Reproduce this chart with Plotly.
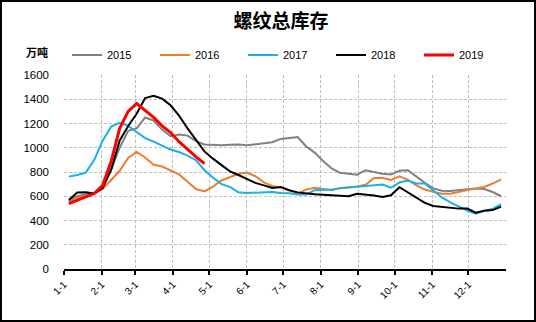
import numpy as np
import plotly.graph_objects as go

# week positions (day of year)
days = [4 + 7 * i for i in range(52)]

month_ticks = [0, 31, 59, 90, 120, 151, 181, 212, 243, 273, 304, 334]
month_labels = ["1-1", "2-1", "3-1", "4-1", "5-1", "6-1", "7-1", "8-1", "9-1", "10-1", "11-1", "12-1"]
y_ticks = [0, 200, 400, 600, 800, 1000, 1200, 1400, 1600]

s2015 = [560, 600, 615, 625, 690, 820, 1000, 1140, 1160, 1250, 1225, 1150, 1095, 1110, 1100, 1055,
         1027, 1022, 1021, 1025, 1027, 1021, 1030, 1037, 1045, 1073, 1079, 1088, 1010, 960, 890, 829,
         793, 785, 778, 815, 800, 785, 780, 810, 815, 760, 710, 665, 645, 644, 650, 658, 663, 660, 635, 600]
s2016 = [553, 585, 600, 625, 660, 735, 810, 915, 966, 920, 860, 845, 812, 780, 720, 660,
         640, 680, 730, 760, 786, 795, 765, 715, 685, 670, 650, 622, 655, 670, 660, 650,
         669, 672, 680, 695, 751, 751, 735, 765, 735, 690, 655, 636, 620, 620, 636, 655, 665, 677, 705, 740]
s2017 = [762, 775, 795, 900, 1060, 1175, 1205, 1180, 1130, 1080, 1050, 1015, 985, 965, 935, 897,
         815, 755, 700, 677, 632, 627, 630, 636, 636, 627, 625, 615, 615, 650, 650, 655,
         665, 672, 678, 683, 695, 697, 670, 713, 730, 705, 705, 650, 590, 550, 515, 482, 457, 480, 495, 535]
s2018 = [570, 630, 632, 622, 670, 820, 1060, 1180, 1280, 1410, 1429, 1405, 1350, 1265, 1160, 1065,
         970, 910, 855, 805, 775, 740, 710, 690, 668, 677, 650, 632, 622, 617, 612, 608,
         606, 600, 620, 615, 606, 594, 608, 675, 630, 585, 545, 520, 512, 500, 498, 498, 465, 480, 486, 515]
s2019 = [540, 567, 594, 622, 690, 890, 1160, 1300, 1365, 1310, 1250, 1180, 1125, 1050, 985, 925, 870]

series = [
    ("2015", s2015, "#808080", 2),
    ("2016", s2016, "#ED7D31", 2),
    ("2017", s2017, "#1AAFE6", 2),
    ("2018", s2018, "#000000", 2),
    ("2019", s2019, "#FF0000", 3),
]

fig = go.Figure()
for name, vals, color, w in series:
    fig.add_trace(go.Scatter(
        x=days[:len(vals)], y=vals, name=name, mode="lines",
        line=dict(color=color, width=w), hoverinfo="skip"))

W, H = 536, 322
ml, mr, mt, mb = 64, 30, 75, 53
pw, ph = W - ml - mr, H - mt - mb

def px_x(p):
    return (p - ml) / pw

def px_y(p):
    return (H - mb - p) / ph

fig.update_layout(
    width=W, height=H,
    margin=dict(l=ml, r=mr, t=mt, b=mb, pad=0),
    paper_bgcolor="white", plot_bgcolor="white",
    font=dict(family="Liberation Sans, Arial, sans-serif", size=11, color="#000000"),
    title=dict(text="<b>螺纹总库存</b>", x=281 / W, xanchor="center", y=1 - 21 / H, yanchor="middle",
               font=dict(family="Noto Sans CJK SC", size=19, color="#000000")),
    showlegend=True,
    legend=dict(orientation="h", x=px_x(67), xanchor="left", y=px_y(55), yanchor="middle",
                font=dict(size=11), entrywidth=43, entrywidthmode="pixels",
                bgcolor="rgba(0,0,0,0)", itemwidth=30, tracegroupgap=0),
    xaxis=dict(range=[0, 365], tickmode="array", tickvals=month_ticks, ticktext=month_labels,
               tickangle=-45, showline=True, linecolor="#000000", linewidth=1.5,
               ticks="outside", ticklen=4, tickcolor="#000000", tickwidth=1.5,
               showgrid=True, gridcolor="#BFBFBF", griddash="3px,2px", gridwidth=1,
               zeroline=False, tickfont=dict(size=10), fixedrange=True),
    yaxis=dict(range=[0, 1600], tickmode="array", tickvals=y_ticks,
               showline=False, ticks="", showgrid=True, gridcolor="#BFBFBF", griddash="3px,2px",
               gridwidth=1, zeroline=False, tickfont=dict(size=11.5), ticklabelstandoff=14,
               fixedrange=True),
    annotations=[dict(text="<b>万吨</b>", x=px_x(24), y=px_y(42), xref="paper", yref="paper",
                      showarrow=False, font=dict(family="Noto Sans CJK SC", size=11, color="#000000"))],
    shapes=[dict(type="rect", xref="paper", yref="paper",
                 x0=px_x(1), x1=px_x(535), y0=px_y(321), y1=px_y(1),
                 line=dict(color="#000000", width=2), fillcolor="rgba(0,0,0,0)", layer="below")],
)

fig.write_html("out.html")
